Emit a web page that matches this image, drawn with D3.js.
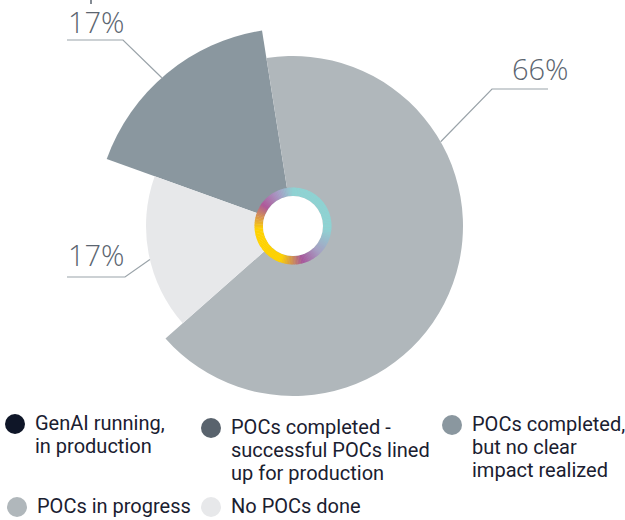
<!DOCTYPE html>
<html>
<head>
<meta charset="utf-8">
<script src="https://cdn.jsdelivr.net/npm/d3@7"></script>
<style>
  body { margin: 0; background: #fff; }
  text { font-family: "Open Sans", sans-serif; }
  .legend text { font-family: Roboto, sans-serif; }
</style>
</head>
<body>
<script>
var categories = ["GenAI running, in production",
  "POCs completed - successful POCs lined up for production",
  "POCs completed, but no clear impact realized",
  "POCs in progress",
  "No POCs done"];
var percents = [0, 0, 17, 66, 17];
var legendLines = [
  ["GenAI running,", "in production"],
  ["POCs completed -", "successful POCs lined", "up for production"],
  ["POCs completed,", "but no clear", "impact realized"],
  ["POCs in progress"],
  ["No POCs done"]
];

var colors = ["#0f1628", "#59636d", "#8a979f", "#b0b7bb", "#e7e8ea"];
var radii = [198, 198, 198, 170, 147];

var W = 625, H = 520;
var cx = 293, cy = 226;

var svg = d3.select("body").append("svg")
  .attr("width", W).attr("height", H);

var pie = d3.pie().sort(null).value(function (d) { return d; })
  .startAngle(-70.2 * Math.PI / 180)
  .endAngle((360 - 70.2) * Math.PI / 180);
var arcs = pie(percents);

var g = svg.append("g").attr("transform", "translate(" + cx + "," + cy + ")");

g.selectAll("path.slice").data(arcs).enter().append("path")
  .attr("class", "slice")
  .attr("fill", function (d, i) { return colors[i]; })
  .attr("d", function (d, i) {
    return d3.arc().innerRadius(0).outerRadius(radii[i])(d);
  });

// center ring, colour by angle (degrees clockwise from top)
var ringColor = d3.scaleLinear()
  .domain([0, 95, 135, 165, 200, 265, 305, 335, 360])
  .range(["#8ed3d3", "#8ed3d3", "#a6a0c4", "#a6569c", "#ffd200", "#ffd200", "#b0579a", "#a89cc6", "#8ed3d3"])
  .interpolate(d3.interpolateRgb);
var nSeg = 144;
var segArc = d3.arc().innerRadius(30).outerRadius(38.5);
for (var k = 0; k < nSeg; k++) {
  var deg = k / nSeg * 360;
  var a0 = deg * Math.PI / 180;
  var a1 = a0 + 2 * Math.PI / nSeg + 0.01;
  g.append("path")
    .attr("d", segArc({ startAngle: a0, endAngle: a1 }))
    .attr("fill", ringColor(deg + 180 / nSeg));
}
g.append("circle").attr("r", 30).attr("fill", "#fff");

// percent labels with leader lines: far end -> bend -> slice edge
var labelSpecs = [
  { i: 2, tx: 68, ty: 33, far: 67, bend: 123, hy: 40, ang: 318.5 },
  { i: 3, tx: 512, ty: 80, far: 548, bend: 492, hy: 89, ang: 60.3 },
  { i: 4, tx: 68, ty: 266, far: 67, bend: 125, hy: 277, ang: 256.8 }
];
labelSpecs.forEach(function (s) {
  var mid = s.ang * Math.PI / 180;
  var r = radii[s.i];
  var px = cx + Math.sin(mid) * r, py = cy - Math.cos(mid) * r;
  svg.append("polyline")
    .attr("points", [[s.far, s.hy], [s.bend, s.hy], [px, py]].map(function (p) { return p.join(","); }).join(" "))
    .attr("fill", "none").attr("stroke", "#9aa3a9").attr("stroke-width", 1.2);
  svg.append("text")
    .attr("x", s.tx).attr("y", s.ty)
    .attr("font-size", 29).attr("font-weight", 300)
    .attr("fill", "#5b6570")
    .text(d3.format(".0f")(percents[s.i]) + "%");
});

// cut-off leader at the top for the 0% labels
svg.append("line").attr("x1", 91).attr("x2", 91).attr("y1", 0).attr("y2", 4)
  .attr("stroke", "#5b6570").attr("stroke-width", 1.5);

// legend
var legendPos = [[15, 424], [211, 428], [452, 425], [17, 507], [211, 507]];
var legend = svg.append("g").attr("class", "legend");
legendLines.forEach(function (lines, i) {
  var p = legendPos[i];
  legend.append("circle").attr("cx", p[0]).attr("cy", p[1]).attr("r", 10)
    .attr("fill", colors[i]);
  var t = legend.append("text")
    .attr("x", p[0] + 20).attr("y", p[1] + 6)
    .attr("font-size", 20).attr("fill", "#1a2030");
  lines.forEach(function (ln, j) {
    t.append("tspan").attr("x", p[0] + 20).attr("dy", j === 0 ? 0 : 23).text(ln);
  });
});
</script>
</body>
</html>
